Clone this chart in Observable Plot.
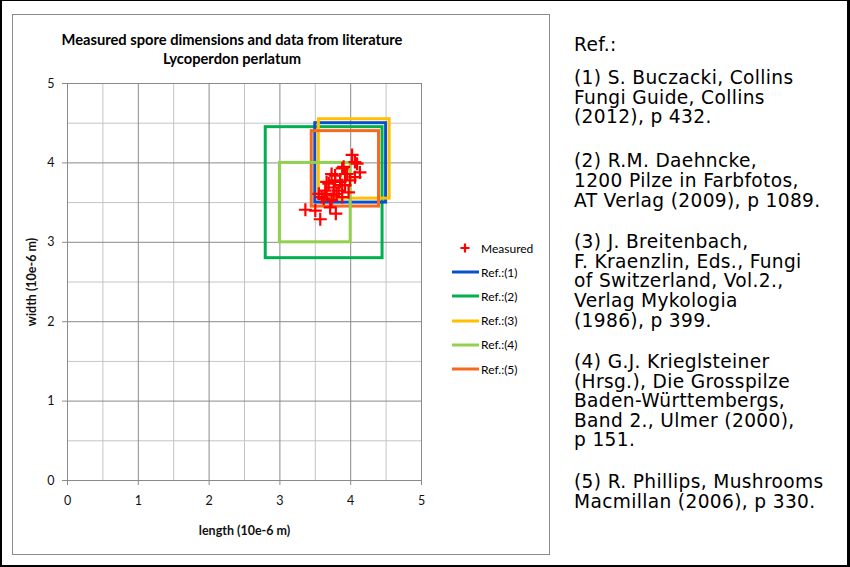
<!DOCTYPE html>
<html>
<head>
<meta charset="utf-8">
<script src="https://cdn.jsdelivr.net/npm/d3@7"></script>
<script src="https://cdn.jsdelivr.net/npm/@observablehq/plot@0.6"></script>
<style>
  html, body { margin: 0; padding: 0; background: #fff; }
  #page { position: relative; width: 850px; height: 567px; box-sizing: border-box;
          border-style: solid; border-color: #000; border-width: 1px 3px 2px 2px; background: #fff; overflow: hidden; }
  #panel { position: absolute; left: 10px; top: 13px; width: 538px; height: 541px; box-sizing: border-box;
           border: 1px solid #8a8a8a; }
  #title { position: absolute; left: 0; width: 460px; top: 29px; text-align: center;
           font-family: Lato, "Open Sans", sans-serif; font-weight: bold; font-size: 14.7px; line-height: 19px; color: #000; }
  #chart { position: absolute; left: -2px; top: 69px; }
  #chart svg { font-family: Lato, "Open Sans", sans-serif; }
  #chart g[aria-label="x-axis label"] text, #chart g[aria-label="y-axis label"] text { font-weight: bold !important; font-size: 12.5px !important; }
  #chart g[aria-label="x-axis tick label"] text, #chart g[aria-label="y-axis tick label"] text { font-size: 12.5px !important; }
  #legend { position: absolute; left: 448px; top: 235px; font-family: Lato, "Open Sans", sans-serif; font-size: 12px; color: #000; }
  .lrow { height: 24.2px; display: flex; align-items: center; }
  .lrow svg { width: 30px; height: 14px; margin-right: 1px; }
  #refs { position: absolute; left: 572px; top: 34.2px; font-family: "DejaVu Sans", Verdana, sans-serif; font-size: 18.6px;
          letter-spacing: 0.35px; line-height: 19.6px; color: #000; }
  #refs p { margin: 0; }
</style>
</head>
<body>
<div id="page">
  <div id="panel"></div>
  <div id="title"></div>
  <div id="chart"></div>
  <div id="legend"></div>
  <div id="refs"></div>
</div>
<script>
// ---- data ----
const titleLines = ["Measured spore dimensions and data from literature", "Lycoperdon perlatum"];
const xLabel = "length (10e-6 m)";
const yLabel = "width (10e-6 m)";
const xTicks = [0, 1, 2, 3, 4, 5];
const yTicks = [0, 1, 2, 3, 4, 5];
const minorTicks = [0.5, 1.5, 2.5, 3.5, 4.5];

// measured spores (length, width) in 10e-6 m
const measuredLength = [3.36, 3.50, 3.57, 3.79, 3.71, 3.59, 3.55, 3.64, 3.62, 3.73, 3.66, 3.69, 3.66, 3.76, 3.80,
  3.76, 3.73, 3.78, 3.83, 3.88, 3.88, 3.92, 3.97, 3.85, 3.99, 3.92, 3.88, 3.95, 4.02, 4.06, 4.09, 4.13, 4.06, 3.90, 3.78];
const measuredWidth = [3.41, 3.40, 3.29, 3.36, 3.44, 3.57, 3.61, 3.65, 3.55, 3.53, 3.61, 3.74, 3.76, 3.59, 3.61,
  3.69, 3.86, 3.78, 3.65, 3.72, 3.57, 3.72, 3.63, 3.76, 3.78, 3.86, 3.93, 3.86, 4.10, 4.01, 3.99, 3.88, 3.82, 3.95, 3.84];

// literature ranges
const refNames = ["Ref.:(1)", "Ref.:(2)", "Ref.:(3)", "Ref.:(4)", "Ref.:(5)"];
const refLenMin = [3.5, 2.8, 3.55, 3.0, 3.45];
const refLenMax = [4.5, 4.45, 4.55, 4.0, 4.4];
const refWidMin = [3.5, 2.8, 3.55, 3.0, 3.45];
const refWidMax = [4.5, 4.45, 4.55, 4.0, 4.4];
const refColors = ["#0a4fcc", "#00b050", "#ffc000", "#92d050", "#f7691e"];
const measuredName = "Measured";
const measuredColor = "#ff0000";

const refTexts = [
  ["Ref.:"],
  ["(1) S. Buczacki, Collins", "Fungi Guide, Collins", "(2012), p 432."],
  ["(2) R.M. Daehncke,", "1200 Pilze in Farbfotos,", "AT Verlag (2009), p 1089."],
  ["(3) J. Breitenbach,", "F. Kraenzlin, Eds., Fungi", "of Switzerland, Vol.2.,", "Verlag Mykologia", "(1986), p 399."],
  ["(4) G.J. Krieglsteiner", "(Hrsg.), Die Grosspilze", "Baden-Württembergs,", "Band 2., Ulmer (2000),", "p 151."],
  ["(5) R. Phillips, Mushrooms", "Macmillan (2006), p 330."]
];
const refGaps = [13.4, 24.4, 22, 22, 22.4, 0];

// ---- build tables ----
const measured = measuredLength.map((l, i) => ({length: l, width: measuredWidth[i]}));
const refs = refNames.map((n, i) => ({name: n, x1: refLenMin[i], x2: refLenMax[i], y1: refWidMin[i], y2: refWidMax[i]}));
const drawOrder = [1, 0, 2, 4, 3];
const refsOrdered = drawOrder.map(i => refs[i]);

const plusSymbol = {
  draw(ctx, size) {
    const r = Math.sqrt(size / Math.PI);
    ctx.moveTo(-r, 0); ctx.lineTo(r, 0);
    ctx.moveTo(0, -r); ctx.lineTo(0, r);
  }
};

const majorGrid = "#8a8a8a";
const minorGrid = "#c4c4c4";

// title
const titleDiv = document.getElementById("title");
titleLines.forEach((t, i) => {
  if (i) titleDiv.appendChild(document.createElement("br"));
  titleDiv.appendChild(document.createTextNode(t));
});

const chart = Plot.plot({
  width: 550,
  height: 470,
  marginLeft: 67,
  marginRight: 129,
  marginTop: 13,
  marginBottom: 60,
  style: {fontSize: "12.5px"},
  x: {domain: [0, 5]},
  y: {domain: [0, 5]},
  color: {domain: refNames, range: refColors},
  marks: [
    Plot.ruleX(minorTicks, {stroke: minorGrid, strokeWidth: 1}),
    Plot.ruleY(minorTicks, {stroke: minorGrid, strokeWidth: 1}),
    Plot.ruleX(xTicks, {stroke: majorGrid, strokeWidth: 1}),
    Plot.ruleY(yTicks, {stroke: majorGrid, strokeWidth: 1}),
    Plot.axisX({ticks: xTicks, tickFormat: "d", tickSize: 5, tickPadding: 11, stroke: majorGrid, fill: "#111",
      label: xLabel, labelAnchor: "center", labelArrow: "none", labelOffset: 54}),
    Plot.axisY({ticks: yTicks, tickFormat: "d", tickSize: 5, tickPadding: 8, stroke: majorGrid, fill: "#111",
      label: yLabel, labelAnchor: "center", labelArrow: "none", labelOffset: 40}),
    Plot.rect(refsOrdered, {x1: "x1", x2: "x2", y1: "y1", y2: "y2", stroke: "name", fill: "none", strokeWidth: 3}),
    Plot.dot(measured, {x: "length", y: "width", symbol: plusSymbol, r: 6.5, stroke: measuredColor, strokeWidth: 2.2, fill: "none"})
  ]
});
document.getElementById("chart").appendChild(chart);

// ---- legend ----
const legend = document.getElementById("legend");
function addRow(kind, color, label) {
  const row = document.createElement("div");
  row.className = "lrow";
  const ns = "http://www.w3.org/2000/svg";
  const s = document.createElementNS(ns, "svg");
  s.setAttribute("viewBox", "0 0 30 14");
  if (kind === "plus") {
    const p = document.createElementNS(ns, "path");
    p.setAttribute("d", "M10.5,7H19.5M15,2.5V11.5");
    p.setAttribute("stroke", color); p.setAttribute("stroke-width", "2.2"); p.setAttribute("fill", "none");
    s.appendChild(p);
  } else {
    const l = document.createElementNS(ns, "line");
    l.setAttribute("x1", 2); l.setAttribute("x2", 29); l.setAttribute("y1", 7); l.setAttribute("y2", 7);
    l.setAttribute("stroke", color); l.setAttribute("stroke-width", "3");
    s.appendChild(l);
  }
  row.appendChild(s);
  const t = document.createElement("span");
  t.textContent = label;
  row.appendChild(t);
  legend.appendChild(row);
}
addRow("plus", measuredColor, measuredName);
refNames.forEach((n, i) => addRow("line", refColors[i], n));

// ---- reference text ----
const refsDiv = document.getElementById("refs");
refTexts.forEach((lines, k) => {
  const p = document.createElement("p");
  p.style.marginBottom = refGaps[k] + "px";
  lines.forEach((ln, j) => {
    if (j) p.appendChild(document.createElement("br"));
    p.appendChild(document.createTextNode(ln));
  });
  refsDiv.appendChild(p);
});
</script>
</body>
</html>
